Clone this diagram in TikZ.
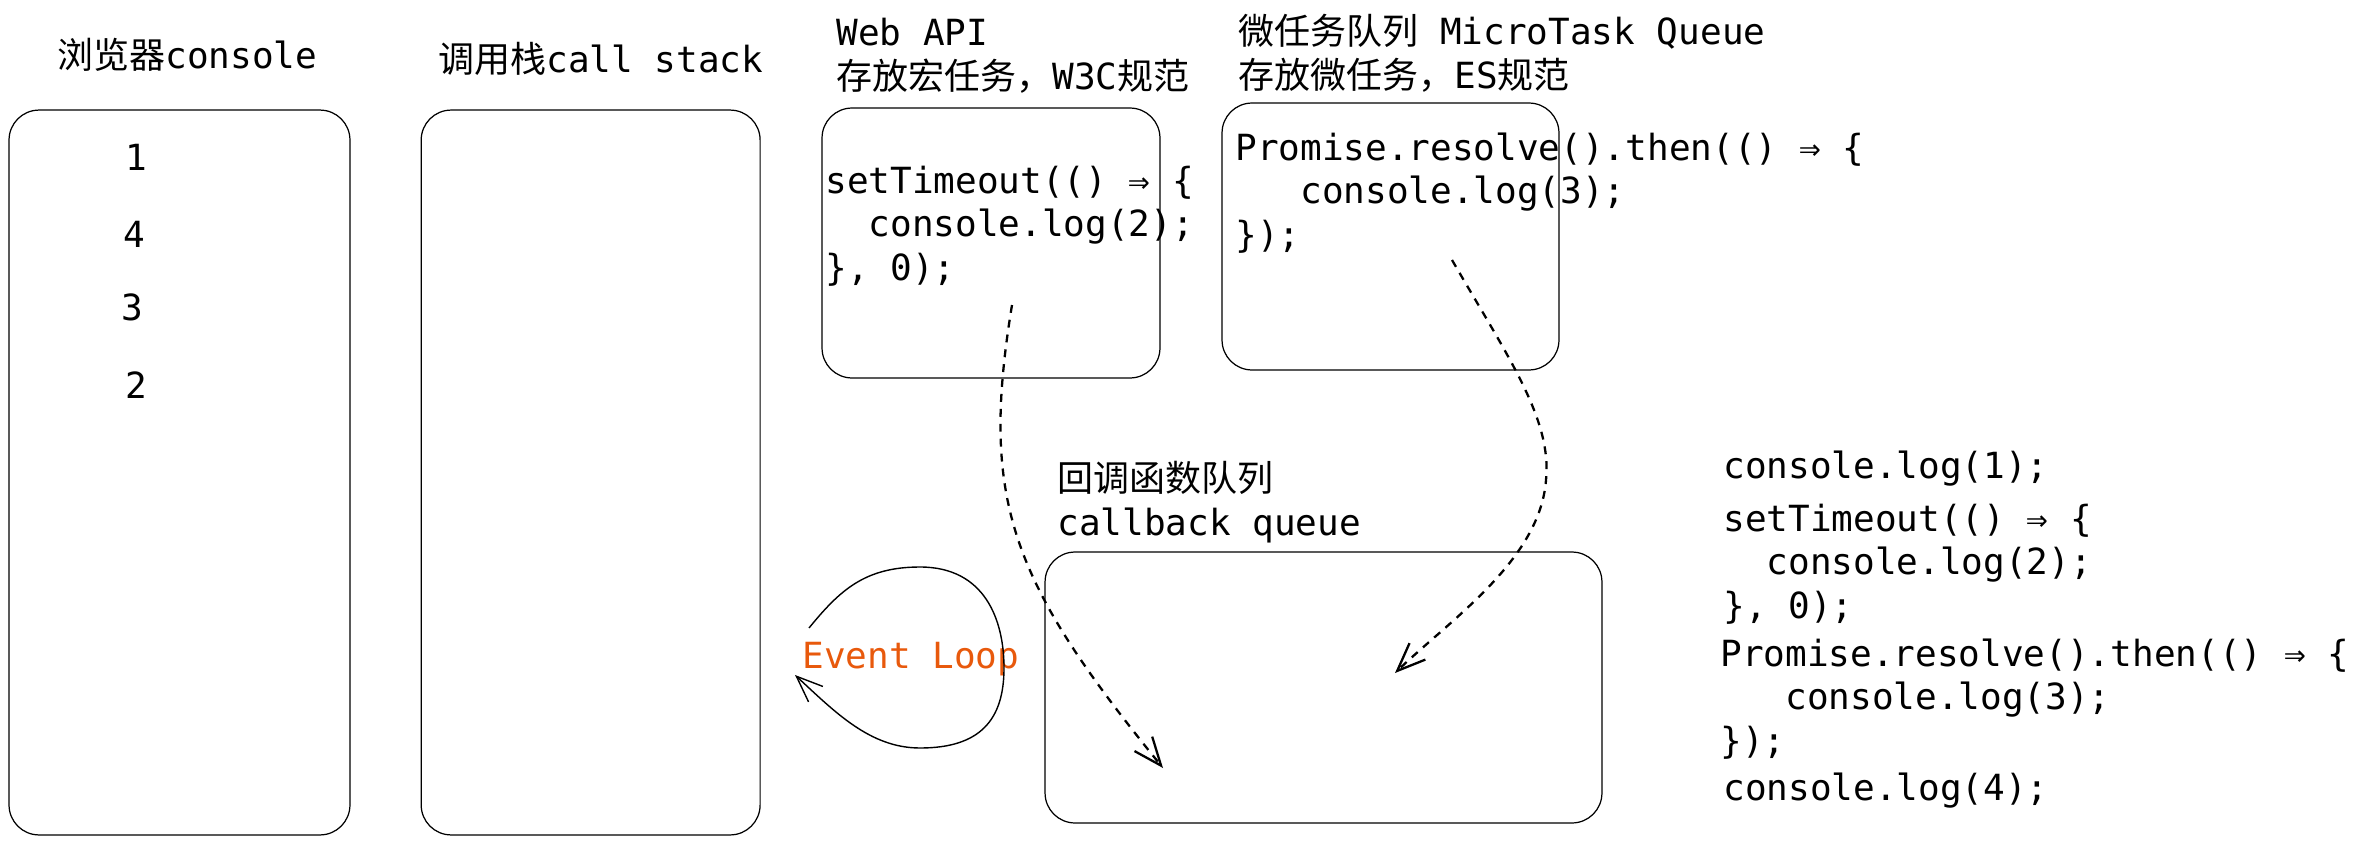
\documentclass[tikz,border=0pt]{standalone}
\usepackage{fontspec}
\setmainfont{DejaVu Sans Mono}
\newfontfamily\cjk{Noto Sans CJK SC}
\usetikzlibrary{arrows.meta}
\usetikzlibrary{positioning}
\definecolor{looporange}{HTML}{E8590C}

\begin{document}
\begin{tikzpicture}[x=0.02cm, y=-0.02cm,
  panel/.style = {draw, rounded corners=0.6cm, line width=0.7pt, inner sep=0},
  src/.style = {anchor=base west, align=left, inner sep=0, font=\fontsize{20.5}{24.5}\selectfont},
  num/.style = {anchor=base, inner sep=0, font=\fontsize{20.5}{24.5}\selectfont},
  hop/.style = {line width=1.3pt, dash pattern=on 4.5pt off 4pt, -{Straight Barb[length=16pt, width=13pt]}},
  cyc/.style = {line width=0.8pt, -{Straight Barb[length=15pt, width=12pt]}},
  node distance=1.4cm]

\useasboundingbox (0,0) rectangle (2360,845);

\node[panel, minimum width=6.82cm, minimum height=14.5cm] (console) at (179.5,472.5) {};
\node[panel, minimum width=6.78cm, minimum height=14.5cm, right=of console] (stack) {};
\node[panel, minimum width=6.76cm, minimum height=5.4cm] (webapi) at (991,243) {};
\node[panel, minimum width=6.74cm, minimum height=5.34cm] (micro) at (1390.5,236.5) {};
\node[panel, minimum width=11.14cm, minimum height=5.42cm] (queue) at (1323.5,687.5) {};

\node[src] (console-t) at (57,68) {{\cjk 浏览器}console};
\node[src] (stack-t) at (438,72) {{\cjk 调用栈}call stack};
\node[src] (webapi-t) at (836,89) {Web API\\{\cjk 存放宏任务，}W3C{\cjk 规范}};
\node[src] (micro-t) at (1238,88) {{\cjk 微任务队列} MicroTask Queue\\{\cjk 存放微任务，}ES{\cjk 规范}};
\node[src] (queue-t) at (1057,535) {{\cjk 回调函数队列}\\callback queue};

\foreach \n/\px/\py in {1/136/170, 4/134/247, 3/132/320, 2/136/398}
  \node[num] (out\n) at (\px,\py) {\n};

\node[src] (webapi-c) at (825,280) {setTimeout(() ⇒ \{\\\hphantom{xx}console.log(2);\\\}, 0);};
\node[src] (micro-c) at (1235,247) {Promise.resolve().then(() ⇒ \{\\\hphantom{xxx}console.log(3);\\\});};

\node[src] (line1) at (1723,478) {console.log(1);};
\node[src] (line2) at (1723,618) {setTimeout(() ⇒ \{\\\hphantom{xx}console.log(2);\\\}, 0);};
\node[src] (line3) at (1720,753) {Promise.resolve().then(() ⇒ \{\\\hphantom{xxx}console.log(3);\\\});};
\node[src] (line4) at (1723,800) {console.log(4);};

\node[src, text=looporange] (evloop) at (802,668) {Event Loop};

\coordinate (macro-a) at (1012,305);
\coordinate (macro-b) at (1163,768);
\coordinate (micro-a) at (1452,260);
\coordinate (micro-b) at (1395,673);
\coordinate (loop-a) at (809,628);
\coordinate (loop-b) at (795,675);

\draw[hop] (macro-a) .. controls (980,500) and (1010,580) .. (macro-b);
\draw[hop] (micro-a) .. controls (1510,360) and (1552,420) .. (1546,480)
  .. controls (1540,560) and (1450,620) .. (micro-b);
\draw[cyc] (loop-a) .. controls (840,590) and (865,567) .. (920,567)
  .. controls (985,567) and (1004,620) .. (1004,668)
  .. controls (1004,720) and (980,748) .. (920,748)
  .. controls (870,748) and (835,712) .. (loop-b);

\end{tikzpicture}
\end{document}
